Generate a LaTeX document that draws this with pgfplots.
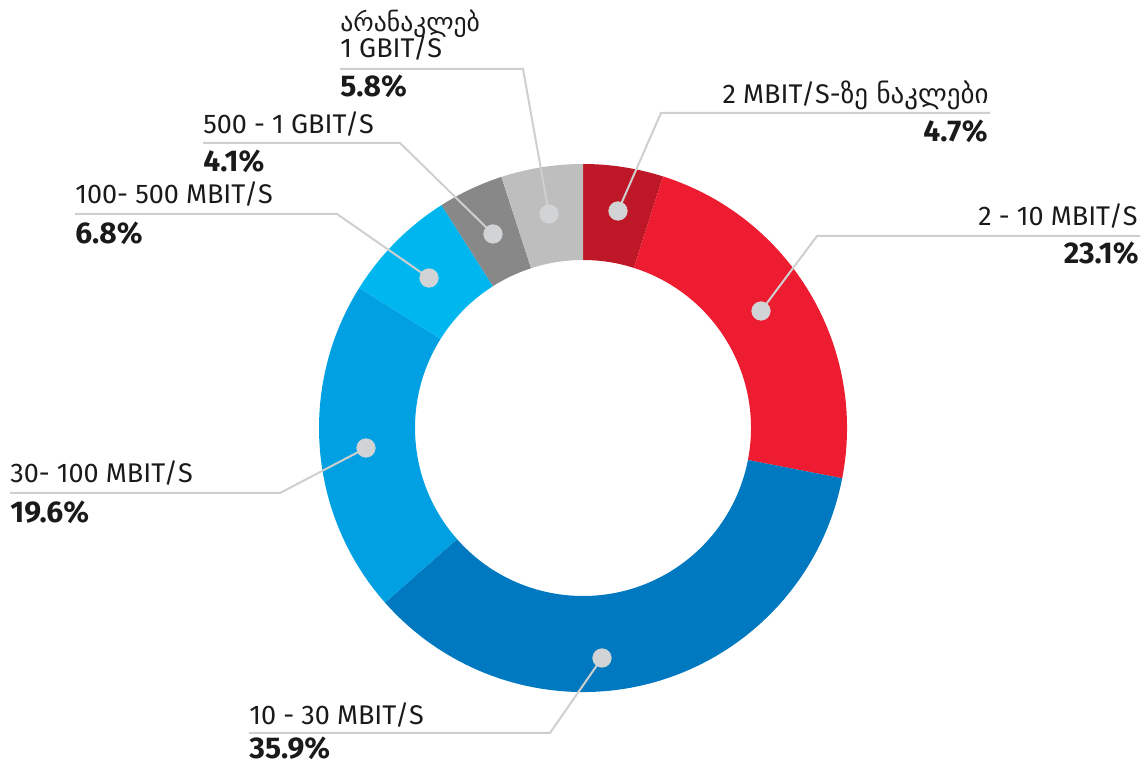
\documentclass[border=0pt]{standalone}
\usepackage{pgfplots}
\pgfplotsset{compat=1.18}
\usepackage{pgfplotstable}
\usepackage{fontspec}
\setmainfont{Fira Sans}
\newfontfamily\geo{DejaVu Sans}[Scale=0.95]
\newfontfamily\geob{DejaVu Sans}[Scale=1.0]
\definecolor{c1}{HTML}{BE1828}
\definecolor{c2}{HTML}{ED1C30}
\definecolor{c3}{HTML}{0079C1}
\definecolor{c4}{HTML}{00A0E3}
\definecolor{c5}{HTML}{00B6EF}
\definecolor{c6}{HTML}{888888}
\definecolor{c7}{HTML}{BEBEBE}
\definecolor{lead}{HTML}{CFCFCF}
\definecolor{dot}{HTML}{D1D3D4}
\definecolor{txt}{HTML}{1A1A1A}
% label = printed share, drawn = share of the ring as drawn in the picture
\pgfplotstableread{
label drawn color
4.7 4.9 c1
23.1 23.15 c2
35.9 35.45 c3
19.6 20.4 c4
6.8 7.1 c5
4.1 4.0 c6
5.8 5.0 c7
}\data
\newcommand\lab{\fontsize{13.5}{16}\selectfont}
\newcommand\pct{\fontsize{15}{16}\selectfont\bfseries}
\begin{document}
\begin{tikzpicture}
\begin{axis}[width=574pt,height=382pt,scale only axis,
  xmin=0,xmax=1148,ymin=0,ymax=764,y dir=reverse,hide axis,clip=false]
\path (axis cs:0,0) rectangle (axis cs:1148,764);
\pgfplotsextra{
  \gdef\cum{0}
  \foreach \i in {0,...,6}{
    \pgfplotstablegetelem{\i}{drawn}\of\data \let\v\pgfplotsretval
    \pgfplotstablegetelem{\i}{color}\of\data \let\col\pgfplotsretval
    \pgfmathsetmacro\aa{90-3.6*\cum}
    \pgfmathsetmacro\ab{90-3.6*(\cum+\v)}
    \path[fill=\col] ([shift={(\aa:132pt)}]axis cs:583,428)
      arc[start angle=\aa, end angle=\ab, radius=132pt]
      -- ([shift={(\ab:84pt)}]axis cs:583,428)
      arc[start angle=\ab, end angle=\aa, radius=84pt] -- cycle;
    \pgfmathsetmacro\newcum{\cum+\v}\xdef\cum{\newcum}
  }
}
% leader lines
\addplot[lead, line width=1pt] coordinates {(618,211) (661,113) (990,113)};
\addplot[lead, line width=1pt] coordinates {(761,311) (817,236) (1140,236)};
\addplot[lead, line width=1pt] coordinates {(602,658) (550,733) (249,733)};
\addplot[lead, line width=1pt] coordinates {(366,448) (280,493) (10,493)};
\addplot[lead, line width=1pt] coordinates {(429,278) (337,214) (75,214)};
\addplot[lead, line width=1pt] coordinates {(493,234) (400,143) (203,143)};
\addplot[lead, line width=1pt] coordinates {(549,214) (523,69) (340,69)};
% dots
\addplot[only marks, mark=*, mark size=4.6pt, mark options={fill=dot, draw=dot}]
  coordinates {(618,211) (761,311) (602,658) (366,448) (429,278) (493,234) (549,214)};
\begin{scope}[every node/.style={inner sep=0pt, text=txt}]
\node[anchor=base east] at (axis cs:989,104) {\lab 2 MBIT/S-{\geob ზე ნაკლები}};
\node[anchor=base east] at (axis cs:988,142) {\pct 4.7\%};
\node[anchor=base east] at (axis cs:1138,226) {\lab 2 - 10 MBIT/S};
\node[anchor=base east] at (axis cs:1139,264) {\pct 23.1\%};
\node[anchor=base west] at (axis cs:249,725) {\lab 10 - 30 MBIT/S};
\node[anchor=base west] at (axis cs:249,759) {\pct 35.9\%};
\node[anchor=base west] at (axis cs:10,483) {\lab 30- 100 MBIT/S};
\node[anchor=base west] at (axis cs:10,523) {\pct 19.6\%};
\node[anchor=base west] at (axis cs:75,204) {\lab 100- 500 MBIT/S};
\node[anchor=base west] at (axis cs:75,244) {\pct 6.8\%};
\node[anchor=base west] at (axis cs:203,134) {\lab 500 - 1 GBIT/S};
\node[anchor=base west] at (axis cs:203,172) {\pct 4.1\%};
\node[anchor=base west] at (axis cs:340,32) {\lab{\geo არანაკლებ}};
\node[anchor=base west] at (axis cs:340,58) {\lab 1 GBIT/S};
\node[anchor=base west] at (axis cs:340,97) {\pct 5.8\%};
\end{scope}
\end{axis}
\end{tikzpicture}
\end{document}
